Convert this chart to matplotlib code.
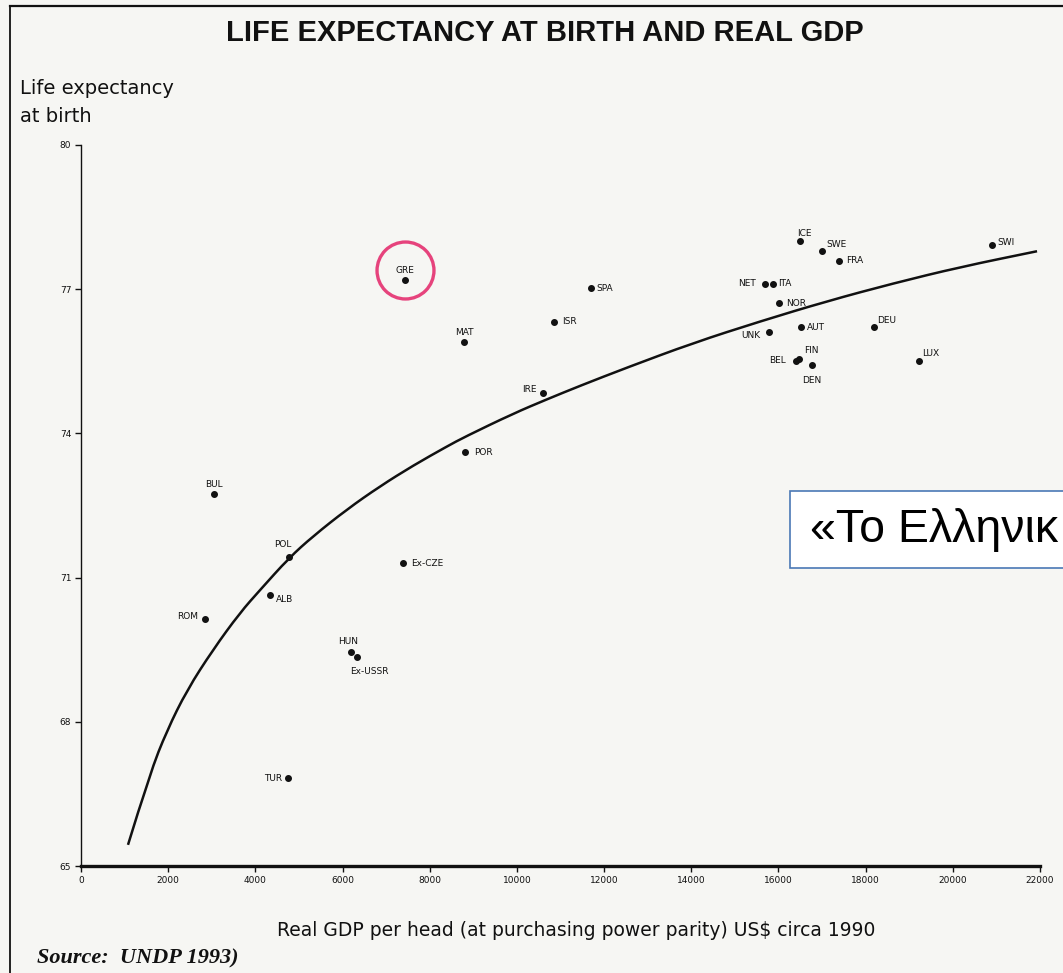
import matplotlib
matplotlib.use("Agg")
import matplotlib.pyplot as plt
import matplotlib.transforms as mtransforms
from matplotlib.patches import Rectangle, PathPatch
from matplotlib.path import Path

# countries: real GDP per head (PPP US$) and life expectancy at birth
countries = ["GRE", "SPA", "ISR", "MAT", "IRE", "POR", "BUL", "POL", "Ex-CZE", "ALB",
             "ROM", "HUN", "Ex-USSR", "TUR", "ICE", "SWE", "FRA", "NET", "ITA", "NOR",
             "UNK", "AUT", "DEU", "BEL", "FIN", "DEN", "LUX", "SWI"]
gdp = [7433, 11700, 10851, 8787, 10599, 8810, 3051, 4772, 7387, 4336,
       2845, 6194, 6332, 4749, 16488, 16993, 17389, 15699, 15882, 16013,
       15791, 16518, 18192, 16396, 16472, 16770, 19232, 20892]
life = [77.19, 77.02, 76.32, 75.90, 74.84, 73.61, 72.74, 71.43, 71.30, 70.64,
        70.14, 69.45, 69.35, 66.83, 78.00, 77.80, 77.59, 77.11, 77.11, 76.71,
        76.11, 76.21, 76.22, 75.51, 75.55, 75.43, 75.51, 77.91]

# trend curve
curve_gdp = [1078, 1583, 1973, 2432, 3028, 3648, 4106, 4772, 5322, 6102, 6859, 7617,
             8397, 8810, 9911, 10691, 11448, 12526, 14040, 15577, 17114, 18628, 20165, 21932]
curve_life = [65.44, 66.93, 67.82, 68.66, 69.50, 70.27, 70.74, 71.41, 71.86, 72.42, 72.90, 73.33,
              73.73, 73.93, 74.41, 74.71, 74.99, 75.37, 75.88, 76.33, 76.75, 77.12, 77.46, 77.79]

x_ticks = [0, 2000, 4000, 6000, 8000, 10000, 12000, 14000, 16000, 18000, 20000, 22000]
y_ticks = [65, 68, 71, 74, 77, 80]

# label offsets in pixels (dx, dy, ha)
offsets = {
    "GRE": (0, 10, "center"), "SPA": (5, 0, "left"), "ISR": (8, 0, "left"),
    "MAT": (0, 10, "center"), "IRE": (-6, 4, "right"), "POR": (9, 0, "left"),
    "BUL": (0, 9, "center"), "POL": (-6, 12, "center"), "Ex-CZE": (8, 0, "left"),
    "ALB": (6, -5, "left"), "ROM": (-7, 2, "right"), "HUN": (-3, 11, "center"),
    "Ex-USSR": (-7, -15, "left"), "TUR": (-6, 0, "right"), "ICE": (-3, 8, "left"),
    "SWE": (5, 6, "left"), "FRA": (7, 0, "left"), "NET": (-9, 0, "right"),
    "ITA": (5, 0, "left"), "NOR": (7, 0, "left"), "UNK": (-9, -4, "right"),
    "AUT": (6, 0, "left"), "DEU": (3, 6, "left"), "BEL": (-10, 0, "right"),
    "FIN": (5, 8, "left"), "DEN": (0, -16, "center"), "LUX": (3, 7, "left"),
    "SWI": (6, 3, "left"),
}

paper = "#f6f6f3"
ink = "#111111"

fig = plt.figure(figsize=(10.63, 9.73), dpi=100, facecolor=paper)
ax = fig.add_axes([81 / 1063, 1 - 866 / 973, 959 / 1063, 721 / 973])
ax.set_facecolor(paper)

# smooth the read-off curve with quadratic bezier segments through midpoints
pts = list(zip(curve_gdp, curve_life))
verts = [pts[0]]
codes = [Path.MOVETO]
for i in range(1, len(pts) - 1):
    mid = ((pts[i][0] + pts[i + 1][0]) / 2, (pts[i][1] + pts[i + 1][1]) / 2)
    verts += [pts[i], mid]
    codes += [Path.CURVE3, Path.CURVE3]
verts.append(pts[-1])
codes.append(Path.LINETO)
ax.add_patch(PathPatch(Path(verts, codes), facecolor="none", edgecolor=ink, lw=1.8))

ax.scatter(gdp, life, s=16, color=ink, zorder=3)

px = 0.72  # points per pixel at 100 dpi
for name, x, y in zip(countries, gdp, life):
    dx, dy, ha = offsets[name]
    ax.annotate(name, (x, y), xytext=(dx * px, dy * px), textcoords="offset points",
                ha=ha, va="center", fontsize=6.5, color=ink)

# pink hand-drawn circle round Greece
gi = countries.index("GRE")
circ_tr = mtransforms.offset_copy(ax.transData, fig=fig, x=0, y=10, units="dots")
ax.plot([gdp[gi]], [life[gi]], marker="o", markersize=41, markerfacecolor="none",
        markeredgecolor="#e6437c", markeredgewidth=2.4, transform=circ_tr, zorder=4)

ax.set_xlim(0, 22000)
ax.set_ylim(65, 80)
ax.set_xticks(x_ticks)
ax.set_xticklabels([str(t) for t in x_ticks], fontsize=6.5)
ax.set_yticks(y_ticks)
ax.set_yticklabels([str(t) for t in y_ticks], fontsize=6.5)
ax.tick_params(axis="both", direction="out", length=4, width=1, color=ink, labelcolor=ink, pad=3)
for s in ["top", "right"]:
    ax.spines[s].set_visible(False)
ax.spines["left"].set_linewidth(1.0)
ax.spines["bottom"].set_linewidth(2.4)
ax.spines["left"].set_color(ink)
ax.spines["bottom"].set_color(ink)

# texts around the plot
fig.text(545 / 1063, 1 - 33 / 973, "LIFE EXPECTANCY AT BIRTH AND REAL GDP",
         ha="center", va="center", fontsize=21, fontweight="bold", color=ink,
         family=["Liberation Sans", "DejaVu Sans"])
fig.text(20 / 1063, 1 - 88 / 973, "Life expectancy", ha="left", va="center",
         fontsize=14, color=ink)
fig.text(20 / 1063, 1 - 116 / 973, "at birth", ha="left", va="center",
         fontsize=14, color=ink)
fig.text(576 / 1063, 1 - 930 / 973,
         "Real GDP per head (at purchasing power parity) US$ circa 1990",
         ha="center", va="center", fontsize=13.5, color=ink)
fig.text(37 / 1063, 1 - 958 / 973, "Source:  UNDP 1993)", ha="left", va="center",
         fontsize=16, fontweight="bold", style="italic", color=ink,
         family=["Liberation Serif", "DejaVu Serif"])

# frame lines of the scanned page
fig.add_artist(plt.Line2D([10 / 1063, 10 / 1063], [0, 1 - 6 / 973],
                          transform=fig.transFigure, color=ink, lw=1.3))
fig.add_artist(plt.Line2D([10 / 1063, 1], [1 - 6 / 973, 1 - 6 / 973],
                          transform=fig.transFigure, color=ink, lw=1.6))

# overlay caption box (cut by the right edge)
fig.add_artist(Rectangle((790 / 1063, 1 - 568 / 973), 300 / 1063, 77 / 973,
                         transform=fig.transFigure, facecolor="white",
                         edgecolor="#4a78b5", lw=1.2, zorder=5))
fig.text(810 / 1063, 1 - 530 / 973, "«Το Ελληνικ", ha="left", va="center",
         fontsize=33.5, color="black", family=["Liberation Sans", "DejaVu Sans"], zorder=6)

fig.savefig("out.png", dpi=100, facecolor=paper)
